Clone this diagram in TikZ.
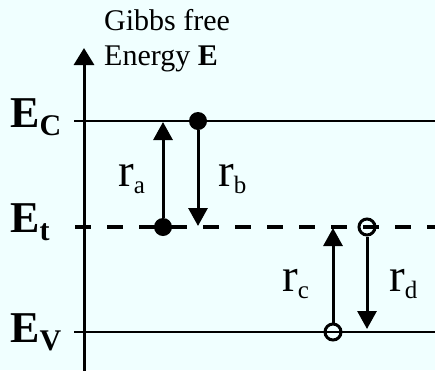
\documentclass[tikz,border=0pt]{standalone}
\usepackage{fontspec}
\setmainfont{Liberation Serif}
\usetikzlibrary{arrows.meta}
\definecolor{bgcol}{HTML}{F0FFFF}
\newcommand{\lvl}[2]{\fontsize{44}{44}\selectfont\textbf{#1}\raisebox{-8pt}{\fontsize{30}{30}\selectfont\textbf{#2}}}
\newcommand{\rate}[1]{\fontsize{47}{47}\selectfont r\raisebox{-7pt}{\fontsize{25}{25}\selectfont #1}}
\begin{document}
\begin{tikzpicture}[x=1pt,y=-1pt,
  level/.style={line width=2pt},
  trapline/.style={line width=4pt,dash pattern=on 16pt off 16pt},
  axisline/.style={line width=3pt,-{Triangle[width=20pt,length=17pt]}},
  rarrow/.style={line width=3pt,-{Triangle[width=19pt,length=18pt]}},
  fulldot/.style={circle,fill=black,inner sep=0pt,minimum size=18pt},
  opendot/.style={circle,draw=black,line width=3pt,inner sep=0pt,minimum size=16pt},
  lab/.style={anchor=base west,inner sep=0pt}]
\fill[bgcol] (0,0) rectangle (435,370);
\useasboundingbox (0,0) rectangle (435,370);
% levels
\coordinate (cL) at (74,121); \coordinate (cR) at (435,121);
\coordinate (tL) at (75,227); \coordinate (tR) at (435,227);
\coordinate (vL) at (74,332); \coordinate (vR) at (435,332);
\draw[level] (cL) -- (cR);
\draw[level] (vL) -- (vR);
\draw[trapline] (tL) -- (tR);
% axis
\coordinate (ax0) at (84,372); \coordinate (ax1) at (84,48);
\draw[axisline] (ax0) -- (ax1);
% dots
\node[fulldot] (da) at (163,227) {};
\node[fulldot] (db) at (198,121) {};
\node[opendot] (dc) at (333,332) {};
\node[opendot] (dd) at (367,227) {};
\coordinate (ta) at (163,122);
\coordinate (tb) at (198,226);
\coordinate (tc) at (333,228);
\coordinate (td) at (367,329);
\draw[rarrow] (da) -- (ta);
\draw[rarrow] (db) -- (tb);
\draw[rarrow] (dc) -- (tc);
\draw[rarrow] (dd) -- (td);
% labels
\node[lab] (gl1) at (104,30) {\fontsize{30}{30}\selectfont Gibbs free};
\node[lab] (gl2) at (104,65) {\fontsize{30}{30}\selectfont Energy \textbf{E}};
\node[lab] (lc) at (10,127) {\lvl{E}{C}};
\node[lab] (lt) at (10,232) {\lvl{E}{t}};
\node[lab] (lv) at (10,342) {\lvl{E}{V}};
\node[lab] (la) at (118,186) {\rate{a}};
\node[lab] (lb) at (218,186) {\rate{b}};
\node[lab] (lcc) at (282,291) {\rate{c}};
\node[lab] (ld) at (389,291) {\rate{d}};
\end{tikzpicture}
\end{document}
